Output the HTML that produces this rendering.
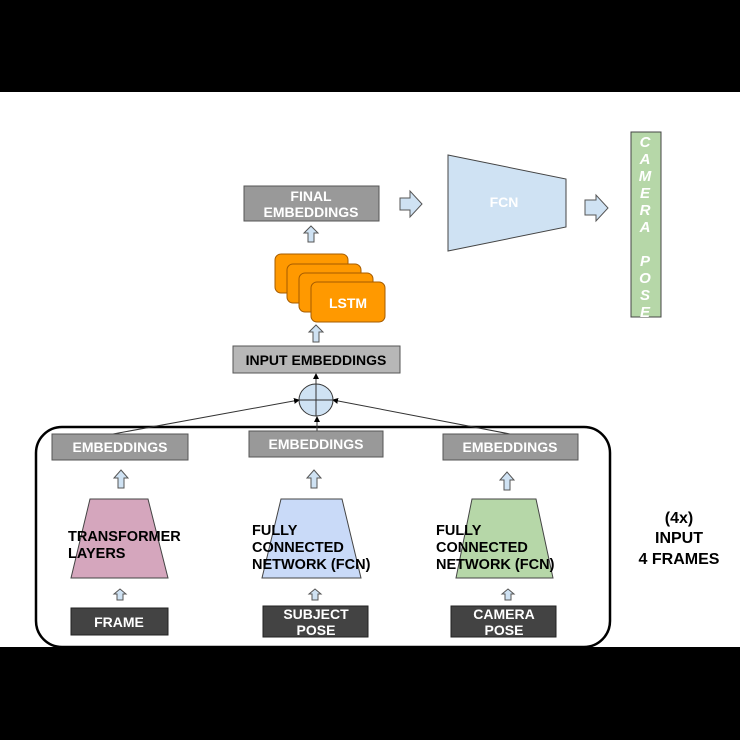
<!DOCTYPE html>
<html><head><style>body{margin:0;background:#000}svg{display:block}text{font-family:"Liberation Sans",Arial,sans-serif;font-weight:bold}</style></head>
<body>
<svg width="740" height="740" viewBox="0 0 740 740" xmlns="http://www.w3.org/2000/svg">
<defs>
<marker id="ah" markerWidth="6" markerHeight="6" refX="5" refY="3" orient="auto"><path d="M0,0 L6,3 L0,6 z" fill="#000"/></marker>
</defs>
<rect x="0" y="0" width="740" height="740" fill="#000"/>
<rect x="0" y="92" width="740" height="555" fill="#fff"/>

<rect x="36" y="427" width="574" height="220" rx="26" fill="none" stroke="#000" stroke-width="2.5"/>

<line x1="113" y1="434" x2="299" y2="400" stroke="#333" stroke-width="1" marker-end="url(#ah)"/>
<line x1="510" y1="434" x2="333" y2="400" stroke="#333" stroke-width="1" marker-end="url(#ah)"/>
<line x1="317" y1="431" x2="317" y2="417" stroke="#333" stroke-width="1" marker-end="url(#ah)"/>
<line x1="316" y1="384" x2="316" y2="374" stroke="#333" stroke-width="1" marker-end="url(#ah)"/>
<ellipse cx="316" cy="400" rx="17" ry="16" fill="#cfe2f3" stroke="#333" stroke-width="1"/>
<line x1="299" y1="400" x2="333" y2="400" stroke="#333"/>
<line x1="316" y1="384" x2="316" y2="416" stroke="#333"/>

<rect x="244" y="186" width="135" height="35" fill="#999" stroke="#555"/>
<text x="311" y="201" font-size="14" fill="#fff" text-anchor="middle">FINAL</text>
<text x="311" y="217" font-size="14" fill="#fff" text-anchor="middle">EMBEDDINGS</text>

<polygon points="400,198 410,198 410,191 422,204 410,217 410,210 400,210" fill="#cfe2f3" stroke="#555" stroke-width="1"/>
<polygon points="585,200 596,200 596,195 608,208 596,221 596,215 585,215" fill="#cfe2f3" stroke="#555" stroke-width="1"/>

<polygon points="448,155 566,179 566,227 448,251" fill="#cfe2f3" stroke="#444" stroke-width="1"/>
<text x="504" y="207" font-size="14" fill="#fff" text-anchor="middle">FCN</text>

<rect x="631" y="132" width="30" height="185" fill="#b6d7a8" stroke="#444"/>
<g font-size="15" fill="#fff" font-style="italic" text-anchor="middle">
<text x="645" y="147">C</text><text x="645" y="164">A</text><text x="645" y="181">M</text><text x="645" y="198">E</text><text x="645" y="215">R</text><text x="645" y="232">A</text>
<text x="645" y="266">P</text><text x="645" y="283">O</text><text x="645" y="300">S</text><text x="645" y="317">E</text>
</g>

<g fill="#cfe2f3" stroke="#555" stroke-width="1">
<polygon points="311,226 318,233 314,233 314,242 308,242 308,233 304,233"/>
<polygon points="316,325 323,332 319,332 319,342 313,342 313,332 309,332"/>
<polygon points="121,470 128,478 124,478 124,488 118,488 118,478 114,478"/>
<polygon points="314,470 321,478 317,478 317,488 311,488 311,478 307,478"/>
<polygon points="507,472 514,480 510,480 510,490 504,490 504,480 500,480"/>
<polygon points="120,589 126,594 123,594 123,600 117,600 117,594 114,594"/>
<polygon points="315,589 321,594 318,594 318,600 312,600 312,594 309,594"/>
<polygon points="508,589 514,594 511,594 511,600 505,600 505,594 502,594"/>
</g>

<g fill="#ff9900" stroke="#a65c00" stroke-width="1">
<rect x="275" y="254" width="73" height="39" rx="6"/>
<rect x="287" y="264" width="74" height="39" rx="6"/>
<rect x="299" y="273" width="74" height="39" rx="6"/>
<rect x="311" y="282" width="74" height="40" rx="6"/>
</g>
<text x="348" y="308" font-size="14" fill="#fff" text-anchor="middle">LSTM</text>

<rect x="233" y="346" width="167" height="27" fill="#b7b7b7" stroke="#555"/>
<text x="316" y="365" font-size="14" fill="#000" text-anchor="middle">INPUT EMBEDDINGS</text>

<g fill="#999" stroke="#555">
<rect x="52" y="434" width="136" height="26"/>
<rect x="249" y="431" width="134" height="26"/>
<rect x="443" y="434" width="135" height="26"/>
</g>
<g font-size="14" fill="#fff" text-anchor="middle">
<text x="120" y="452">EMBEDDINGS</text>
<text x="316" y="449">EMBEDDINGS</text>
<text x="510" y="452">EMBEDDINGS</text>
</g>

<polygon points="90,499 148,499 168,578 71,578" fill="#d5a6bd" stroke="#444"/>
<polygon points="281,499 342,499 361,578 262,578" fill="#c9daf8" stroke="#444"/>
<polygon points="472,499 536,499 553,578 456,578" fill="#b6d7a8" stroke="#444"/>
<g font-size="14.5" fill="#000">
<text x="68" y="541">TRANSFORMER</text><text x="68" y="558">LAYERS</text>
<text x="252" y="535">FULLY</text><text x="252" y="552">CONNECTED</text><text x="252" y="569">NETWORK (FCN)</text>
<text x="436" y="535">FULLY</text><text x="436" y="552">CONNECTED</text><text x="436" y="569">NETWORK (FCN)</text>
</g>

<g fill="#434343" stroke="#222">
<rect x="71" y="608" width="97" height="27"/>
<rect x="263" y="606" width="105" height="31"/>
<rect x="451" y="606" width="105" height="31"/>
</g>
<g font-size="14" fill="#fff" text-anchor="middle">
<text x="119" y="627">FRAME</text>
<text x="316" y="619">SUBJECT</text><text x="316" y="635">POSE</text>
<text x="504" y="619">CAMERA</text><text x="504" y="635">POSE</text>
</g>

<g font-size="16" fill="#000" text-anchor="middle">
<text x="679" y="523">(4x)</text><text x="679" y="543">INPUT</text><text x="679" y="564">4 FRAMES</text>
</g>
</svg>
</body></html>
